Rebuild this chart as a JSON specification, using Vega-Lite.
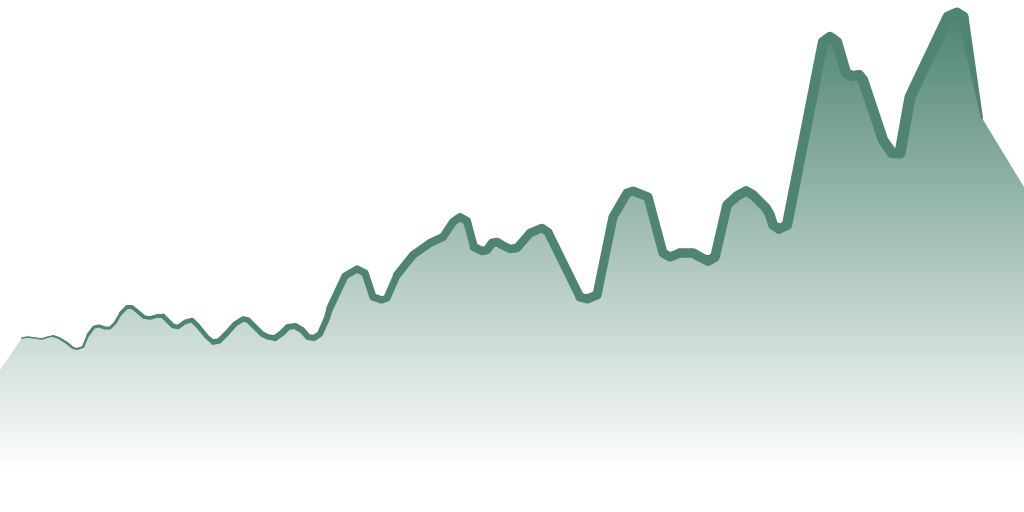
{
  "$schema": "https://vega.github.io/schema/vega-lite/v6.json",
  "width": 1024,
  "height": 512,
  "autosize": {"type": "fit", "contains": "padding"},
  "padding": 0,
  "background": "#ffffff",
  "config": {"view": {"stroke": null}},
  "data": {
    "values": [
      {"x": 0, "v": 142}, {"x": 22, "v": 174}, {"x": 28, "v": 175}, {"x": 35, "v": 174},
      {"x": 42, "v": 173}, {"x": 48, "v": 175}, {"x": 53, "v": 176}, {"x": 59, "v": 174},
      {"x": 67, "v": 169}, {"x": 73, "v": 164}, {"x": 77, "v": 163}, {"x": 83, "v": 165},
      {"x": 88, "v": 177}, {"x": 94, "v": 185}, {"x": 99, "v": 186}, {"x": 105, "v": 184},
      {"x": 110, "v": 184}, {"x": 115, "v": 189}, {"x": 121, "v": 199}, {"x": 127, "v": 205},
      {"x": 132, "v": 205}, {"x": 137, "v": 201}, {"x": 144, "v": 195}, {"x": 150, "v": 194},
      {"x": 157, "v": 196}, {"x": 163, "v": 196}, {"x": 167, "v": 192}, {"x": 173, "v": 186},
      {"x": 178, "v": 185}, {"x": 185, "v": 190}, {"x": 192, "v": 192}, {"x": 198, "v": 186},
      {"x": 207, "v": 175}, {"x": 213, "v": 170}, {"x": 219, "v": 171}, {"x": 227, "v": 179},
      {"x": 235, "v": 188}, {"x": 243, "v": 193}, {"x": 248, "v": 192}, {"x": 255, "v": 185},
      {"x": 262, "v": 178}, {"x": 268, "v": 175}, {"x": 275, "v": 174}, {"x": 282, "v": 179},
      {"x": 288, "v": 185}, {"x": 295, "v": 186}, {"x": 302, "v": 182}, {"x": 308, "v": 175},
      {"x": 314, "v": 174}, {"x": 320, "v": 178}, {"x": 327, "v": 194}, {"x": 330, "v": 204},
      {"x": 345, "v": 236}, {"x": 357, "v": 243}, {"x": 365, "v": 239}, {"x": 373, "v": 215},
      {"x": 382, "v": 212}, {"x": 387, "v": 214}, {"x": 397, "v": 237}, {"x": 413, "v": 257},
      {"x": 430, "v": 269}, {"x": 443, "v": 275}, {"x": 453, "v": 290}, {"x": 460, "v": 295},
      {"x": 467, "v": 291}, {"x": 474, "v": 265}, {"x": 482, "v": 261}, {"x": 487, "v": 262},
      {"x": 492, "v": 269}, {"x": 497, "v": 270}, {"x": 502, "v": 267}, {"x": 510, "v": 263},
      {"x": 517, "v": 264}, {"x": 530, "v": 279}, {"x": 542, "v": 284}, {"x": 548, "v": 280},
      {"x": 580, "v": 215}, {"x": 587, "v": 213}, {"x": 597, "v": 217}, {"x": 613, "v": 295},
      {"x": 627, "v": 319}, {"x": 633, "v": 321}, {"x": 648, "v": 315}, {"x": 663, "v": 259},
      {"x": 670, "v": 255}, {"x": 680, "v": 259}, {"x": 693, "v": 259}, {"x": 700, "v": 255},
      {"x": 708, "v": 251}, {"x": 715, "v": 255}, {"x": 727, "v": 307}, {"x": 737, "v": 316},
      {"x": 746, "v": 321}, {"x": 753, "v": 317}, {"x": 766, "v": 304}, {"x": 770, "v": 297},
      {"x": 773, "v": 287}, {"x": 779, "v": 283}, {"x": 787, "v": 287}, {"x": 823, "v": 470},
      {"x": 830, "v": 475}, {"x": 837, "v": 470}, {"x": 846, "v": 439}, {"x": 852, "v": 436},
      {"x": 859, "v": 437}, {"x": 863, "v": 432}, {"x": 883, "v": 372}, {"x": 892, "v": 359},
      {"x": 900, "v": 359}, {"x": 910, "v": 415}, {"x": 948, "v": 495}, {"x": 957, "v": 499},
      {"x": 963, "v": 495}, {"x": 982, "v": 394}, {"x": 1024, "v": 325}
    ]
  },
  "encoding": {
    "x": {"field": "x", "type": "quantitative", "scale": {"domain": [0, 1024], "nice": false, "zero": false}, "axis": null},
    "y": {"field": "v", "type": "quantitative", "scale": {"domain": [0, 512], "nice": false}, "axis": null}
  },
  "layer": [
    {
      "mark": {
        "type": "area",
        "color": {
          "gradient": "linear",
          "x1": 0, "y1": 0, "x2": 0, "y2": 1,
          "stops": [
            {"offset": 0, "color": "#4e8470"},
            {"offset": 0.92, "color": "#ffffff"},
            {"offset": 1, "color": "#ffffff"}
          ]
        }
      }
    },
    {"transform": [{"filter": "datum.x >= 22 && datum.x <= 53"}], "mark": {"type": "line", "color": "#4e8470", "strokeWidth": 1.6, "strokeCap": "round", "strokeJoin": "round"}},
    {"transform": [{"filter": "datum.x >= 53 && datum.x <= 88"}], "mark": {"type": "line", "color": "#4e8470", "strokeWidth": 2.3, "strokeCap": "round", "strokeJoin": "round"}},
    {"transform": [{"filter": "datum.x >= 88 && datum.x <= 121"}], "mark": {"type": "line", "color": "#4e8470", "strokeWidth": 3, "strokeCap": "round", "strokeJoin": "round"}},
    {"transform": [{"filter": "datum.x >= 121 && datum.x <= 163"}], "mark": {"type": "line", "color": "#4e8470", "strokeWidth": 3.8, "strokeCap": "round", "strokeJoin": "round"}},
    {"transform": [{"filter": "datum.x >= 163 && datum.x <= 213"}], "mark": {"type": "line", "color": "#4e8470", "strokeWidth": 4.6, "strokeCap": "round", "strokeJoin": "round"}},
    {"transform": [{"filter": "datum.x >= 213 && datum.x <= 275"}], "mark": {"type": "line", "color": "#4e8470", "strokeWidth": 5.4, "strokeCap": "round", "strokeJoin": "round"}},
    {"transform": [{"filter": "datum.x >= 275 && datum.x <= 330"}], "mark": {"type": "line", "color": "#4e8470", "strokeWidth": 6.2, "strokeCap": "round", "strokeJoin": "round"}},
    {"transform": [{"filter": "datum.x >= 330 && datum.x <= 397"}], "mark": {"type": "line", "color": "#4e8470", "strokeWidth": 7.2, "strokeCap": "round", "strokeJoin": "round"}},
    {"transform": [{"filter": "datum.x >= 397 && datum.x <= 474"}], "mark": {"type": "line", "color": "#4e8470", "strokeWidth": 8, "strokeCap": "round", "strokeJoin": "round"}},
    {"transform": [{"filter": "datum.x >= 474 && datum.x <= 580"}], "mark": {"type": "line", "color": "#4e8470", "strokeWidth": 8.6, "strokeCap": "round", "strokeJoin": "round"}},
    {"transform": [{"filter": "datum.x >= 580 && datum.x <= 680"}], "mark": {"type": "line", "color": "#4e8470", "strokeWidth": 9.1, "strokeCap": "round", "strokeJoin": "round"}},
    {"transform": [{"filter": "datum.x >= 680 && datum.x <= 787"}], "mark": {"type": "line", "color": "#4e8470", "strokeWidth": 9.7, "strokeCap": "round", "strokeJoin": "round"}},
    {"transform": [{"filter": "datum.x >= 787 && datum.x <= 900"}], "mark": {"type": "line", "color": "#4e8470", "strokeWidth": 10.3, "strokeCap": "round", "strokeJoin": "round"}},
    {"transform": [{"filter": "datum.x >= 900 && datum.x <= 963"}], "mark": {"type": "line", "color": "#4e8470", "strokeWidth": 11, "strokeCap": "round", "strokeJoin": "round"}},
    {
      "transform": [{"filter": "datum.x >= 963 && datum.x <= 982"}],
      "mark": {"type": "trail", "color": "#4e8470"},
      "encoding": {
        "size": {"field": "x", "type": "quantitative", "scale": {"type": "linear", "domain": [963, 982], "range": [11, 2], "zero": false}, "legend": null}
      }
    }
  ]
}
